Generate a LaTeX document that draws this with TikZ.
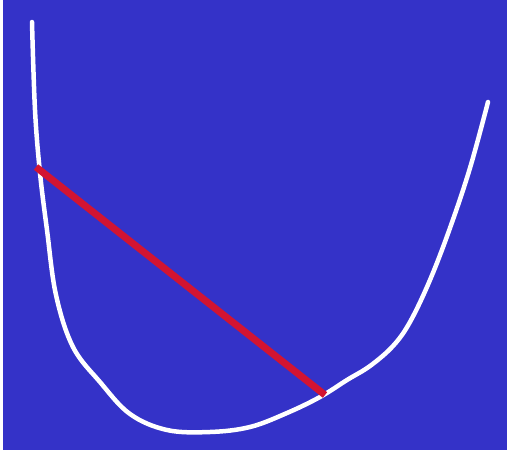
\documentclass[tikz,border=0pt]{standalone}
\usetikzlibrary{positioning}
\definecolor{bgblue}{RGB}{52,50,200}
\definecolor{chordred}{RGB}{210,20,50}
\begin{document}
\begin{tikzpicture}[x=1pt,y=-1pt,
  curve/.style={draw=white, line width=4.5pt, line cap=round, line join=round},
  chord/.style={draw=chordred, line width=7pt}]
\useasboundingbox (0,0) rectangle (507,450);
\fill[white] (0,0) rectangle (507,450);
\fill[bgblue] (3,0) rectangle (507,450);
% convex curve
\draw[curve] plot[smooth, tension=0.6] coordinates {
  (32,22) (35,110) (40,173) (47,230) (56,295) (73,347) (100,382)
  (130,414) (167,430) (210,432) (250,427) (287,413) (320,397)
  (347,380) (370,366) (393,346) (410,322) (430,280) (450,228)
  (470,168) (488,102)};
% chord end points
\coordinate (left) at (36,167);
\coordinate (right) at (325,395);
\draw[chord] (left) -- (right);
\end{tikzpicture}
\end{document}
